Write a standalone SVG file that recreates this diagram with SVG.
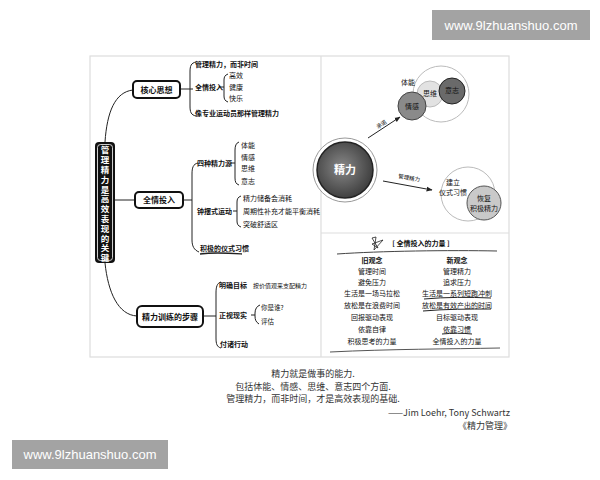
<svg xmlns="http://www.w3.org/2000/svg" width="600" height="480" viewBox="0 0 600 480">
<defs>
<style>
.t{font-family:"Noto Sans CJK SC","Noto Sans",sans-serif;fill:#111}
.b{font-weight:bold}
.s7{font-size:7px}
.s8{font-size:8px}
.ln{fill:none;stroke:#222;stroke-width:1}
.frame{fill:none;stroke:#ddd;stroke-width:1.2}
.cap{font-family:"Noto Sans CJK SC","Noto Sans",sans-serif;font-size:9px;fill:#333}
.wm{font-family:"Liberation Sans","DejaVu Sans",sans-serif;font-size:13px;fill:#fff}
.vt{font-family:"Noto Sans CJK SC","Noto Sans",sans-serif;font-size:8.5px;font-weight:bold;fill:#fff;writing-mode:vertical-rl;letter-spacing:1.3px}
</style>
<radialGradient id="gBig" cx="0.45" cy="0.45" r="0.6">
<stop offset="0" stop-color="#888"/><stop offset="1" stop-color="#3a3a3a"/>
</radialGradient>
<marker id="arr" viewBox="0 0 10 10" refX="9" refY="5" markerWidth="6" markerHeight="6" orient="auto">
<path d="M0,1 L10,5 L0,9 z" fill="#222"/>
</marker>
</defs>
<rect width="600" height="480" fill="#fff"/>

<!-- watermarks -->
<g id="wm-top"><rect x="432" y="10" width="158" height="30" fill="#a3a3a3"/><text class="wm" x="511" y="30" text-anchor="middle">www.9lzhuanshuo.com</text></g>
<g id="wm-bottom"><rect x="12" y="440" width="156" height="29" fill="#a3a3a3"/><text class="wm" x="90" y="459" text-anchor="middle">www.9lzhuanshuo.com</text></g>

<!-- frame -->
<rect class="frame" x="90" y="56" width="419" height="301"/>
<line class="frame" x1="321" y1="56" x2="321" y2="357"/>
<line class="frame" x1="321" y1="233" x2="509" y2="233"/>

<!-- connectors -->
<g id="connectors">
<path class="ln" d="M133,90 C115,92 107,112 105,142"/>
<path class="ln" d="M105,263 C108,292 118,315 137,316"/>
<line class="ln" x1="115" y1="200" x2="135" y2="200"/>
<line class="ln" x1="180" y1="89" x2="190" y2="89"/>
<path class="ln" d="M196,62 C191,63 190,66 190,72 L190,106 C190,112 191,115 196,116"/>
<line class="ln" x1="190" y1="89" x2="193" y2="89"/>
<line class="ln" x1="219" y1="87" x2="224" y2="87"/>
<path class="ln" d="M228,74 C225,75 224,77 224,80 L224,96 C224,99 225,101 228,102"/>
<line class="ln" x1="183" y1="200" x2="192" y2="200"/>
<path class="ln" d="M198,163 C193,164 192,168 192,174 L192,240 C192,246 194,250 199,252"/>
<path class="ln" d="M239,142 C236,143 235,146 235,150 L235,178 C235,182 236,184 239,185"/>
<line class="ln" x1="230" y1="163" x2="235" y2="163"/>
<path class="ln" d="M241,196 C238,197 237,199 237,202 L237,221 C237,224 238,226 241,227"/>
<line class="ln" x1="233" y1="211" x2="237" y2="211"/>
<path d="M200,254 C215,252 228,253 242,254" fill="none" stroke="#222" stroke-width="1.3"/>
<line class="ln" x1="203" y1="316" x2="216" y2="316"/>
<path class="ln" d="M221,282 C217,283 216,287 216,293 L216,338 C216,344 217,347 221,348"/>
<path class="ln" d="M260,305 C257,306 255,309 255,313 L255,316 C255,320 256,322 259,324"/>
<line class="ln" x1="251" y1="315" x2="255" y2="315"/>
<line class="ln" x1="368" y1="138" x2="400" y2="117" marker-end="url(#arr)"/>
<line class="ln" x1="383" y1="181" x2="432" y2="190" marker-end="url(#arr)"/>
</g>

<!-- left mind map nodes -->
<g id="title">
<rect x="95" y="142" width="20" height="121" rx="4" fill="#111"/>
<rect x="97.5" y="144.5" width="15" height="116" rx="3" fill="none" stroke="#fff" stroke-width="0.8"/>
<text class="vt" x="105" y="146">管理精力是高效表现的关键</text>
</g>

<g id="core">
<rect x="133" y="81" width="47" height="17" rx="4" fill="#fff" stroke="#111" stroke-width="2"/>
<text class="t b s8" x="156.5" y="92.5" text-anchor="middle">核心思想</text>
</g>
<g id="core-items">
<text class="t b s7" x="195" y="67">管理精力，而非时间</text>
<text class="t b s7" x="195" y="90">全情投入</text>
<text class="t s7" x="229" y="78">高效</text>
<text class="t s7" x="229" y="90">健康</text>
<text class="t s7" x="229" y="101">快乐</text>
<text class="t b s7" x="195" y="116">像专业运动员那样管理精力</text>
</g>

<g id="full">
<rect x="135" y="192" width="48" height="16" rx="4" fill="#fff" stroke="#111" stroke-width="2"/>
<text class="t b s8" x="159" y="203" text-anchor="middle">全情投入</text>
</g>
<g id="full-items">
<text class="t b s7" x="197" y="166">四种精力源</text>
<text class="t s7" x="241" y="148">体能</text>
<text class="t s7" x="241" y="160">情感</text>
<text class="t s7" x="241" y="171">思维</text>
<text class="t s7" x="241" y="184">意志</text>
<text class="t b s7" x="197" y="214">钟摆式运动</text>
<text class="t s7" x="243" y="201">精力储备会消耗</text>
<text class="t s7" x="243" y="214">周期性补充才能平衡消耗</text>
<text class="t s7" x="243" y="227">突破舒适区</text>
<text class="t b s7" x="200" y="251">积极的仪式习惯</text>
</g>

<g id="steps">
<rect x="137" y="306" width="66" height="21" rx="5" fill="#fff" stroke="#111" stroke-width="2"/>
<text class="t b s8" x="170" y="319.5" text-anchor="middle">精力训练的步骤</text>
</g>
<g id="steps-items">
<text class="t b s7" x="219" y="288">明确目标</text>
<text class="t" font-size="6" x="253" y="287.5">按价值观来支配精力</text>
<text class="t b s7" x="219" y="318">正视现实</text>
<text class="t" font-size="6.5" x="261" y="310">你是谁?</text>
<text class="t" font-size="6.5" x="261" y="324">评估</text>
<text class="t b s7" x="220" y="347">付诸行动</text>
</g>

<!-- right top diagram -->
<g id="energy">
<circle cx="345" cy="170" r="32" fill="#fff" stroke="#999" stroke-width="1"/>
<circle cx="345" cy="170" r="28" fill="url(#gBig)" stroke="#222" stroke-width="1.5"/>
<text class="t b" font-size="11" style="fill:#fff" x="345" y="174" text-anchor="middle">精力</text>
</g>
<g id="label-commit"><text class="t" font-size="5.5" transform="translate(378,129) rotate(-33)">承诺</text></g>
<g id="label-manage"><text class="t" font-size="5.5" transform="translate(398,178) rotate(10)">管理精力</text></g>
<g id="cluster1">
<circle cx="441" cy="94" r="28" fill="none" stroke="#bbb" stroke-width="1"/>
<text class="t s7" x="408" y="85" text-anchor="middle">体能</text>
<circle cx="430" cy="94" r="13" fill="#e2e2e2" stroke="#bbb"/>
<text class="t s7" x="430" y="96" text-anchor="middle">思维</text>
<circle cx="452" cy="91" r="13" fill="#6a6a6a" stroke="#222"/>
<text class="t s7" x="452" y="93" text-anchor="middle">意志</text>
<circle cx="412" cy="106" r="14" fill="#8a8a8a" stroke="#444"/>
<text class="t s7" x="412" y="109" text-anchor="middle">情感</text>
</g>
<g id="cluster2">
<circle cx="468" cy="194" r="27" fill="none" stroke="#bbb" stroke-width="1"/>
<text class="t s7" x="453" y="185" text-anchor="middle">建立</text>
<text class="t s7" x="453" y="195" text-anchor="middle">仪式习惯</text>
<circle cx="484" cy="203" r="17" fill="#c9c9c9" stroke="#555"/>
<text class="t s7" x="484" y="201" text-anchor="middle">恢复</text>
<text class="t s7" x="484" y="211" text-anchor="middle">积极精力</text>
</g>

<!-- right bottom table -->
<g id="table">
<path d="M372,238 L378,248 L372,244 L383,240 L374,250 L376,237 Z" fill="none" stroke="#222" stroke-width="0.8"/>
<text class="t b s7" x="421" y="246" text-anchor="middle">[ 全情投入的力量 ]</text>
<path d="M337,254 C380,251 450,250 497,251" fill="none" stroke="#444" stroke-width="1"/>
<g class="t s7" text-anchor="middle">
<text class="b" x="372" y="263">旧观念</text>
<text x="372" y="274">管理时间</text>
<text x="372" y="285">避免压力</text>
<text x="372" y="296">生活是一场马拉松</text>
<text x="372" y="308">放松是在浪费时间</text>
<text x="372" y="320">回报驱动表现</text>
<text x="372" y="332">依靠自律</text>
<text x="372" y="344">积极思考的力量</text>
<text class="b" x="457" y="263">新观念</text>
<text x="457" y="274">管理精力</text>
<text x="457" y="285">追求压力</text>
<text x="457" y="296">生活是一系列短跑冲刺</text>
<text x="457" y="308">放松是有效产出的时间</text>
<text x="457" y="320">目标驱动表现</text>
<text x="457" y="332">依靠习惯</text>
<text x="457" y="344">全情投入的力量</text>
</g>
<path d="M424,299 C445,297 470,297 491,298" fill="none" stroke="#222" stroke-width="1"/>
<path d="M423,311 C445,309 470,309 491,309" fill="none" stroke="#222" stroke-width="1"/>
<path d="M442,334 C452,333 463,333 472,334" fill="none" stroke="#222" stroke-width="1"/>
<path d="M330,352 C390,349 450,349 500,348" fill="none" stroke="#555" stroke-width="1"/>
</g>

<!-- caption -->
<g id="caption">
<text class="cap" text-anchor="middle"><tspan x="313" y="377">精力就是做事的能力.</tspan><tspan x="313" y="389.5">包括体能、情感、思维、意志四个方面.</tspan><tspan x="313" y="402">管理精力，而非时间，才是高效表现的基础.</tspan></text>
<text class="cap" text-anchor="end"><tspan x="510" y="416">——Jim Loehr, Tony Schwartz</tspan><tspan x="512" y="429">《精力管理》</tspan></text>
</g>
</svg>
